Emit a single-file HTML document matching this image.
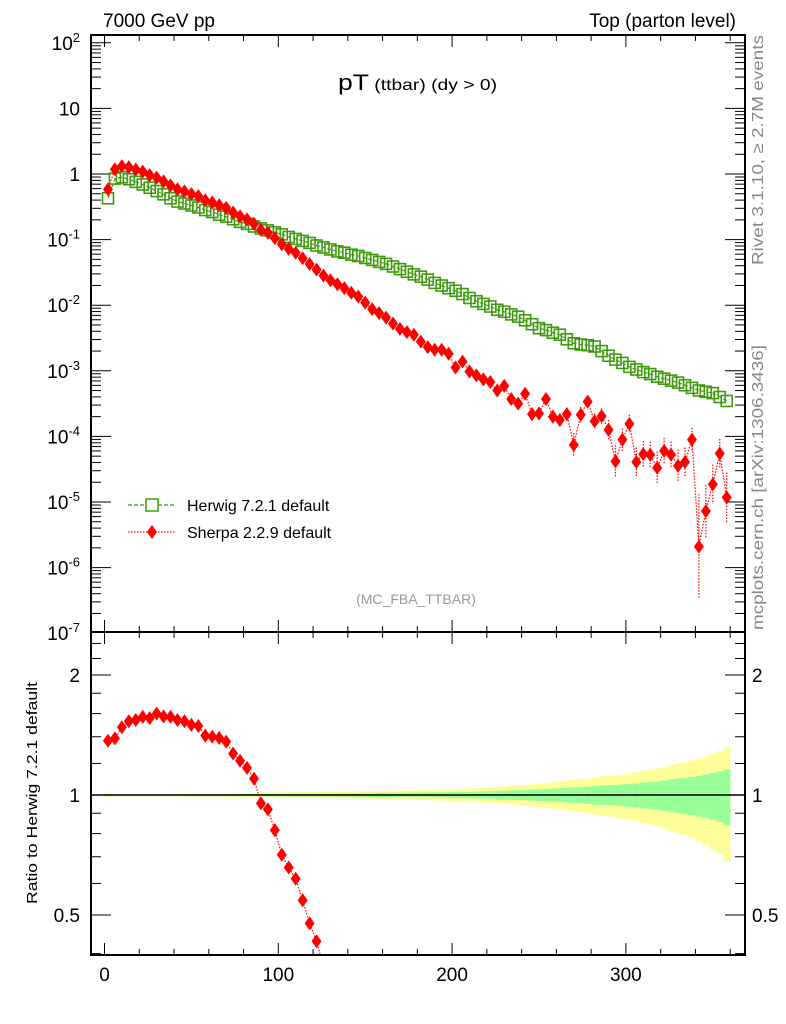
<!DOCTYPE html>
<html><head><meta charset="utf-8"><style>
html,body{margin:0;padding:0;background:#fff;overflow:hidden;width:786px;height:1024px}
svg{display:block;font-family:"Liberation Sans",sans-serif}
</style></head><body>
<svg id="chart" width="786" height="1024" viewBox="0 0 786 1024" xmlns="http://www.w3.org/2000/svg">
<defs>
<clipPath id="cm"><rect x="91" y="35" width="654" height="597"/></clipPath>
<clipPath id="cr"><rect x="91" y="632" width="654" height="323"/></clipPath>
</defs>
<text x="103" y="27" font-size="19">7000 GeV pp</text>
<text x="736" y="27" font-size="19" text-anchor="end">Top (parton level)</text>
<text x="338" y="90" textLength="159" lengthAdjust="spacingAndGlyphs"><tspan font-size="22">pT</tspan><tspan font-size="16"> (ttbar) (dy &gt; 0)</tspan></text>
<text transform="translate(763,265) rotate(-90)" font-size="16" fill="#888" textLength="230" lengthAdjust="spacingAndGlyphs">Rivet 3.1.10, ≥ 2.7M events</text>
<text transform="translate(763,630) rotate(-90)" font-size="16" fill="#888" textLength="285" lengthAdjust="spacingAndGlyphs">mcplots.cern.ch [arXiv:1306.3436]</text>
<text x="416" y="604" font-size="14" fill="#999" text-anchor="middle">(MC_FBA_TTBAR)</text>
<text transform="translate(37,793) rotate(-90)" font-size="15" text-anchor="middle" textLength="222" lengthAdjust="spacingAndGlyphs">Ratio to Herwig 7.2.1 default</text>
<g id="bands" clip-path="url(#cr)"></g>
<g id="axes"></g>
<g id="mainmarks" clip-path="url(#cm)"></g>
<g id="ratiomarks" clip-path="url(#cr)"></g>
<g>
<line x1="128" y1="505" x2="176" y2="505" stroke="#3f9a10" stroke-width="1.2" stroke-dasharray="4,2"/>
<rect x="146" y="499" width="12" height="12" fill="#fff" stroke="#3f9a10" stroke-width="1.5"/>
<text x="187" y="511" font-size="16">Herwig 7.2.1 default</text>
<line x1="128" y1="532" x2="176" y2="532" stroke="#f00" stroke-width="1.2" stroke-dasharray="1.5,1.5"/>
<path d="M152 525 L157 532 L152 539 L147 532 Z" fill="#f00"/>
<text x="187" y="538" font-size="16">Sherpa 2.2.9 default</text>
</g>
</svg>
<script>
const binCenters = Array.from({length:90},(_, i)=>2+4*i);
const herwigLog = [-0.37,-0.07,-0.05,-0.08,-0.12,-0.16,-0.21,-0.26,-0.31,-0.37,-0.42,-0.45,-0.48,-0.51,-0.55,-0.58,-0.62,-0.65,-0.69,-0.73,-0.76,-0.80,-0.83,-0.86,-0.89,-0.92,-0.96,-0.99,-1.02,-1.05,-1.09,-1.12,-1.15,-1.18,-1.20,-1.23,-1.25,-1.28,-1.31,-1.34,-1.37,-1.41,-1.45,-1.49,-1.53,-1.565,-1.61,-1.66,-1.70,-1.74,-1.78,-1.83,-1.89,-1.94,-1.98,-2.02,-2.07,-2.10,-2.14,-2.175,-2.23,-2.29,-2.35,-2.38,-2.42,-2.45,-2.52,-2.58,-2.60,-2.61,-2.63,-2.70,-2.77,-2.83,-2.88,-2.94,-2.98,-3.02,-3.05,-3.09,-3.12,-3.15,-3.18,-3.22,-3.26,-3.30,-3.32,-3.34,-3.40,-3.46];
const sherpaLog = [-0.234,0.072,0.12,0.105,0.068,0.036,-0.017,-0.056,-0.113,-0.174,-0.232,-0.265,-0.304,-0.337,-0.401,-0.434,-0.477,-0.516,-0.586,-0.644,-0.692,-0.759,-0.851,-0.896,-0.978,-1.07,-1.142,-1.20,-1.284,-1.372,-1.457,-1.55,-1.62,-1.68,-1.74,-1.81,-1.87,-1.96,-2.06,-2.12,-2.19,-2.28,-2.36,-2.41,-2.45,-2.556,-2.64,-2.68,-2.68,-2.74,-2.95,-2.86,-3.01,-3.07,-3.13,-3.17,-3.30,-3.23,-3.43,-3.50,-3.35,-3.66,-3.65,-3.43,-3.70,-3.75,-3.66,-4.13,-3.67,-3.47,-3.77,-3.69,-3.90,-4.38,-4.05,-3.81,-4.39,-4.27,-4.28,-4.48,-4.22,-4.28,-4.45,-4.39,-4.05,-5.68,-5.14,-4.73,-4.26,-4.93];
const sherpaErrLog = [0,0,0,0,0,0,0,0,0,0,0,0,0,0,0,0,0,0,0,0,0,0,0,0,0,0,0,0,0,0,0,0,0,0,0,0,0,0,0,0,0,0,0,0,0,0.03,0.03,0.03,0.03,0.04,0.05,0.04,0.05,0.05,0.06,0.06,0.07,0.07,0.08,0.09,0.08,0.1,0.1,0.09,0.1,0.1,0.1,0.18,0.12,0.1,0.12,0.12,0.15,0.25,0.17,0.14,0.22,0.2,0.2,0.25,0.2,0.2,0.25,0.22,0.18,0.8,0.4,0.3,0.22,0.38];
const herwigRelErr = [0.006,0.004,0.004,0.004,0.004,0.004,0.004,0.004,0.004,0.004,0.004,0.004,0.005,0.005,0.005,0.005,0.005,0.005,0.006,0.006,0.006,0.006,0.007,0.007,0.007,0.007,0.008,0.008,0.008,0.008,0.009,0.009,0.009,0.01,0.01,0.01,0.011,0.011,0.011,0.012,0.012,0.012,0.013,0.013,0.014,0.014,0.015,0.015,0.016,0.016,0.017,0.018,0.019,0.02,0.021,0.022,0.024,0.025,0.027,0.028,0.03,0.032,0.034,0.036,0.038,0.04,0.043,0.046,0.048,0.05,0.053,0.056,0.058,0.06,0.063,0.066,0.07,0.075,0.078,0.082,0.088,0.095,0.1,0.105,0.11,0.118,0.125,0.135,0.145,0.16];
const mainTickLabels = ['10^-7','10^-6','10^-5','10^-4','10^-3','10^-2','10^-1','1','10','10^2'];
const ratioTickLabels = ['0.5','1','2'];
const xTickLabels = ['0','100','200','300'];

const NS='http://www.w3.org/2000/svg';
const X = v => 104.5 + v*1.738;
const YM = l => 174 - l*65.6;
const YR = r => 795 - Math.log2(r)*120;
function mk(tag, attrs, parent){const e=document.createElementNS(NS,tag);for(const k in attrs)e.setAttribute(k,attrs[k]);parent.appendChild(e);return e;}
const axes=document.getElementById('axes'), bands=document.getElementById('bands');
const mm=document.getElementById('mainmarks'), rm=document.getElementById('ratiomarks');

binCenters.forEach((c,i)=>{
  const e=herwigRelErr[i];
  const y1=mk('rect',{x:X(c-2),width:1.738*4+0.3,y:YR(1+2*e),height:YR(1-2*e)-YR(1+2*e),fill:'#ffff99'},bands);
  
  
  const g=mk('rect',{x:X(c-2),width:1.738*4+0.3,y:YR(1+e),height:YR(1-e)-YR(1+e),fill:'#99ff99'},bands);
  
  
});
const ref=mk('line',{x1:91,x2:745,y1:YR(1),y2:YR(1),stroke:'#000','stroke-width':1.5},bands);



const f1=mk('rect',{x:91,y:35,width:654,height:597,fill:'none',stroke:'#000','stroke-width':2},axes);


const f2=mk('rect',{x:91,y:632,width:654,height:323,fill:'none',stroke:'#000','stroke-width':2},axes);



for(let d=-7; d<=2; d++){
  for(let m=1;m<=9;m++){
    const l=d+Math.log10(m); const y=YM(l);
    if(y<35||y>632) continue;
    const len=m===1?20:10;
    mk('line',{x1:91,x2:91+len,y1:y,y2:y,stroke:'#000','stroke-width':1},axes);
    mk('line',{x1:745,x2:745-len,y1:y,y2:y,stroke:'#000','stroke-width':1},axes);
  }
  const lab=mainTickLabels[d+7];
  const t=mk('text',{x:80,y:YM(d)+7,'font-size':19,'text-anchor':'end'},axes);
  
  
  if(lab.indexOf('^')>=0){const p=lab.split('^');t.textContent=p[0];const s=document.createElementNS(NS,'tspan');s.setAttribute('font-size',13);s.setAttribute('dy',-8);s.textContent=p[1];t.appendChild(s);}
  else t.textContent=lab;
}
[0.4,0.5,0.6,0.7,0.8,0.9,1,1.2,1.4,1.6,1.8,2,2.2,2.4].forEach(r=>{
  const y=YR(r); const maj=(r===0.5||r===1||r===2); const len=maj?20:10;
  mk('line',{x1:91,x2:91+len,y1:y,y2:y,stroke:'#000','stroke-width':1},axes);
  mk('line',{x1:745,x2:745-len,y1:y,y2:y,stroke:'#000','stroke-width':1},axes);
});
ratioTickLabels.forEach(s=>{
  const r=parseFloat(s);
  const a=mk('text',{x:80,y:YR(r)+7,'font-size':19,'text-anchor':'end'},axes);a.textContent=s;
  
  
  const b=mk('text',{x:752,y:YR(r)+7,'font-size':19},axes);b.textContent=s;
  
  
});
for(let v=0; v<=360; v+=20){
  const x=X(v); const maj=v%100===0; const len=maj?12:6;
  [[35,1],[632,-1],[632,1],[955,-1]].forEach(([y0,dir])=>mk('line',{x1:x,x2:x,y1:y0,y2:y0+dir*len,stroke:'#000','stroke-width':1},axes));
}
xTickLabels.forEach(s=>{
  const t=mk('text',{x:X(parseFloat(s)),y:981,'font-size':19,'text-anchor':'middle'},axes);t.textContent=s;
  
  
});

let hp='',sp='';
binCenters.forEach((c,i)=>{hp+=(i?'L':'M')+X(c)+' '+YM(herwigLog[i]);sp+=(i?'L':'M')+X(c)+' '+YM(sherpaLog[i]);});
const hl=mk('path',{d:hp,fill:'none',stroke:'#3f9a10','stroke-width':1.2,'stroke-dasharray':'4,2'},mm);


const sl=mk('path',{d:sp,fill:'none',stroke:'#f00','stroke-width':1.2,'stroke-dasharray':'1.5,1.5'},mm);


binCenters.forEach((c,i)=>{
  const x=X(c), y=YM(herwigLog[i]);
  const r=mk('rect',{x:x-5.5,y:y-5.5,width:11,height:11,fill:'none',stroke:'#3f9a10','stroke-width':1.6},mm);
  
  
});
binCenters.forEach((c,i)=>{
  const x=X(c), y=YM(sherpaLog[i]), e=sherpaErrLog[i];
  if(e>0){const eb=mk('line',{x1:x,x2:x,y1:YM(sherpaLog[i]+e),y2:YM(sherpaLog[i]-e),stroke:'#f00','stroke-width':1.2,'stroke-dasharray':'1.5,1.5'},mm);
    
    }
  const p=mk('path',{d:`M${x} ${y-7}L${x+5} ${y}L${x} ${y+7}L${x-5} ${y}Z`,fill:'#f00'},mm);
  
  
});
let rp='';
binCenters.forEach((c,i)=>{const r=Math.pow(10,sherpaLog[i]-herwigLog[i]);rp+=(i?'L':'M')+X(c)+' '+YR(r);});
const rl=mk('path',{d:rp,fill:'none',stroke:'#f00','stroke-width':1.2,'stroke-dasharray':'1.5,1.5'},rm);


binCenters.forEach((c,i)=>{
  const r=Math.pow(10,sherpaLog[i]-herwigLog[i]); const x=X(c), y=YR(r);
  const p=mk('path',{d:`M${x} ${y-7}L${x+5} ${y}L${x} ${y+7}L${x-5} ${y}Z`,fill:'#f00'},rm);
  
  
});
</script>
</body></html>
